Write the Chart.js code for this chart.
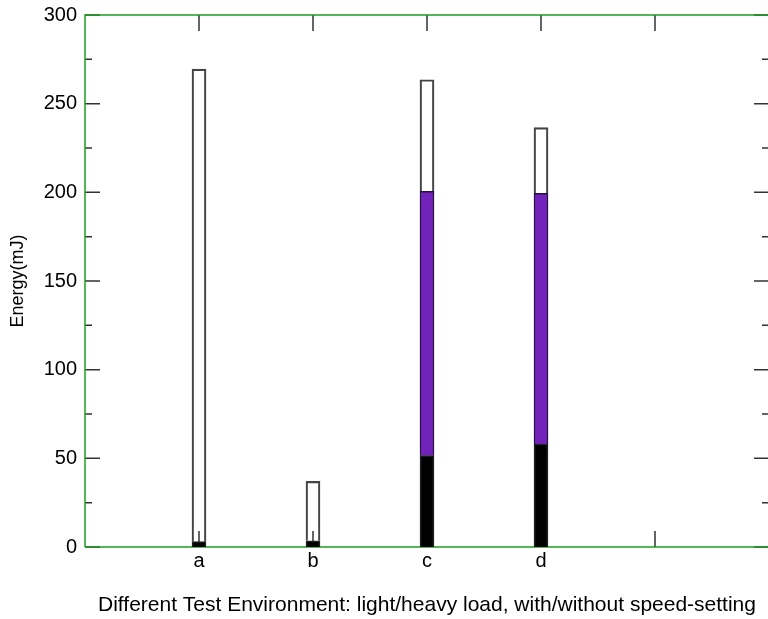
<!DOCTYPE html>
<html>
<head>
<meta charset="utf-8">
<script src="https://cdn.jsdelivr.net/npm/chart.js@4"></script>
<style>
  html, body { margin: 0; padding: 0; background: #fff; overflow: hidden; }
  #wrap { width: 768px; height: 619px; overflow: hidden; }
</style>
</head>
<body>
<div id="wrap"><canvas id="energyChart" width="772" height="619"></canvas></div>
<script>
// categories and stacked segment values (mJ), bottom to top
const categories = ['a', 'b', 'c', 'd'];
const blackPart = [3, 3.5, 51.5, 58];
const purplePart = [0, 0, 149, 141.5];
const whitePart = [266.5, 33.5, 63, 37];
const yTicks = [0, 50, 100, 150, 200, 250, 300];

const FONT = '"Liberation Sans", Arial, Helvetica, sans-serif';
const GREEN = '#1f9e1f';
const TICK = '#333';

function toPoints(values) {
    return values.map((v, i) => ({ x: i + 1, y: v }));
}

// green frame + inward tick marks, drawn under the bars
const frameAndTicks = {
    id: 'frameAndTicks',
    beforeDatasetsDraw(chart) {
        const { ctx, chartArea: a, scales } = chart;
        const x = scales.x, y = scales.y;
        ctx.save();
        ctx.strokeStyle = TICK;
        ctx.lineWidth = 1.5;
        ctx.beginPath();
        for (let v = 0; v <= 300; v += 25) {
            const py = y.getPixelForValue(v);
            const len = v % 50 === 0 ? 15 : 7;
            ctx.moveTo(a.left, py); ctx.lineTo(a.left + len, py);
            ctx.moveTo(a.right, py); ctx.lineTo(a.right - len, py);
        }
        for (let k = 1; k <= 5; k++) {
            const px = x.getPixelForValue(k);
            ctx.moveTo(px, a.top); ctx.lineTo(px, a.top + 16);
            ctx.moveTo(px, a.bottom); ctx.lineTo(px, a.bottom - 16);
        }
        ctx.stroke();
        ctx.strokeStyle = GREEN;
        ctx.beginPath();
        ctx.moveTo(a.left, a.bottom);
        ctx.lineTo(a.left, a.top);
        ctx.lineTo(a.right, a.top);
        ctx.moveTo(a.left, a.bottom);
        ctx.lineTo(a.right, a.bottom);
        ctx.stroke();
        ctx.restore();
    }
};

const ctx = document.getElementById('energyChart').getContext('2d');
new Chart(ctx, {
    type: 'bar',
    data: {
        datasets: [
            { label: 'base', data: toPoints(blackPart), backgroundColor: '#000', borderColor: '#222', borderWidth: 1.5 },
            { label: 'mid', data: toPoints(purplePart), backgroundColor: '#7022bb', borderColor: '#2a1040', borderWidth: 1.5 },
            { label: 'top', data: toPoints(whitePart), backgroundColor: 'rgba(255,255,255,0)', borderColor: '#444', borderWidth: 1.5 }
        ]
    },
    options: {
        responsive: false,
        animation: false,
        events: [],
        barThickness: 14,
        layout: { padding: { top: 15, right: 3, left: 0, bottom: 0 } },
        plugins: { legend: { display: false }, tooltip: { enabled: false } },
        scales: {
            x: {
                type: 'linear',
                stacked: true,
                offset: false,
                min: 0,
                max: 6,
                grid: { display: false },
                border: { display: false },
                afterFit(s) { s.height = 72; },
                afterBuildTicks(s) {
                    s.ticks = [1, 2, 3, 4].map(v => ({ value: v }));
                },
                ticks: {
                    padding: -6,
                    color: '#000',
                    font: { family: FONT, size: 20 },
                    callback: v => categories[v - 1] || ''
                },
                title: {
                    display: true,
                    text: 'Different Test Environment: light/heavy load, with/without speed-setting',
                    color: '#000',
                    font: { family: FONT, size: 21 },
                    padding: { top: 0, bottom: 1 }
                }
            },
            y: {
                stacked: true,
                min: 0,
                max: 300,
                grid: { display: false },
                border: { display: false },
                afterFit(s) { s.width = 85; },
                afterBuildTicks(s) {
                    s.ticks = yTicks.map(v => ({ value: v }));
                },
                ticks: {
                    padding: 0,
                    color: '#000',
                    font: { family: FONT, size: 20 }
                },
                title: {
                    display: true,
                    text: 'Energy(mJ)',
                    color: '#000',
                    font: { family: FONT, size: 18 },
                    padding: { top: 7, bottom: 0 }
                }
            }
        }
    },
    plugins: [frameAndTicks]
});
</script>
</body>
</html>
